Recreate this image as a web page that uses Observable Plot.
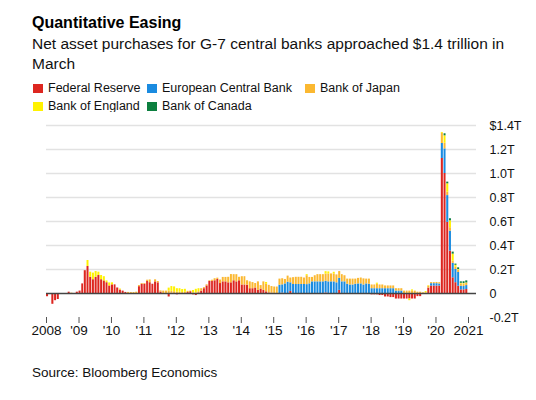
<!DOCTYPE html>
<html>
<head>
<meta charset="utf-8">
<script src="https://cdn.jsdelivr.net/npm/d3@7"></script>
<script src="https://cdn.jsdelivr.net/npm/@observablehq/plot@0.6"></script>
<style>
  body { margin: 0; background: #fff; font-family: "Liberation Sans", Arial, Helvetica, sans-serif; color: #111; }
  #wrap { position: relative; width: 536px; height: 400px; overflow: hidden; }
  #title { position: absolute; left: 32px; top: 14px; font-weight: bold; font-size: 16px; line-height: 18px; color: #000; }
  #sub { position: absolute; left: 32px; top: 34px; font-size: 15.5px; line-height: 19.5px; color: #111; }
  #legend { position: absolute; left: 33px; top: 80.4px; display: grid; grid-template-columns: 114px 158px auto; font-size: 12.5px; }
  .li { position: relative; padding-left: 15px; height: 17.7px; line-height: 17.7px; white-space: nowrap; }
  .sw { position: absolute; left: 0; top: 3.6px; width: 10px; height: 9px; }
  #chart { position: absolute; left: 0; top: 112px; }
  #src { position: absolute; left: 32px; top: 364.5px; font-size: 13.5px; line-height: 16px; color: #111; }
</style>
</head>
<body>
<div id="wrap">
  <div id="title">Quantitative Easing</div>
  <div id="sub">Net asset purchases for G-7 central banks approached $1.4 trillion in<br>March</div>
  <div id="legend"></div>
  <div id="chart"></div>
  <div id="src">Source: Bloomberg Economics</div>
</div>
<script>
// Series (monthly net asset purchases, US$ billions), Jan 2008 .. Dec 2020
const seriesNames = ["Federal Reserve", "European Central Bank", "Bank of Japan", "Bank of England", "Bank of Canada"];
const seriesColors = ["#dd2620", "#1a8be0", "#fbb831", "#fff200", "#0c7f3f"];

const fedReserve = [
  -27, -5, -90, -60, -50, -3, -2, 0, 11, 0, 0, 11,
  20, 80, 190, 225, 135, 115, 135, 150, 115, 105, 90, 63,
  72, 72, 46, 26, 20, 9, 0, 0, 0, -5, 57, 77,
  77, 100, 90, 77, 97, 89, 12, 0, 0, -29, 3, -5,
  -11, 0, 0, 0, 8, 15, -11, -17, 5, 20, 40, 63,
  100, 100, 106, 117, 83, 97, 97, 89, 89, 106, 97, 106,
  71, 71, 69, 40, 40, 46, 26, 37, 26, 14, 5, 3,
  0, -3, -5, 3, 0, 0, 17, 0, 0, 0, -4, 0,
  0, 0, 0, 0, -3, 0, 0, 5, 0, 0, 0, 0,
  26, 0, 0, 0, 0, -3, 0, 0, 0, -5, -5, -8,
  -11, -11, -11, -17, -17, -29, -29, -34, -34, -46, -46, -46,
  -46, -46, -46, -46, -46, -26, -26, 0, 0, 45, 62, 62,
  62, 62, 1125, 1000, 593, 353, 131, 90, 60, 30, 30, 33
];
const ecb = [
  0, 0, 0, 0, 0, 0, 0, 0, 0, 0, 0, 0,
  0, 0, 0, 0, 0, 0, 0, 0, 0, 0, 0, 0,
  0, 0, 0, 0, 0, 0, 0, 0, 0, 0, 0, 0,
  0, 0, 0, 0, 0, 0, 0, 0, 0, 0, 0, 0,
  0, 0, 0, 0, 0, 0, 0, 0, 0, 0, 0, 0,
  0, 0, 0, 0, 0, 0, 0, 0, 0, 0, 0, 0,
  0, 0, 0, 0, 0, 0, 0, 0, 0, 0, 0, 0,
  0, 0, 69, 69, 80, 94, 72, 75, 75, 75, 75, 75,
  74, 80, 97, 97, 97, 97, 97, 97, 97, 97, 97, 89,
  100, 97, 97, 77, 71, 71, 77, 80, 80, 71, 80, 77,
  40, 40, 40, 40, 40, 40, 40, 40, 40, 20, 20, 20,
  0, 0, 0, 0, 0, 0, 0, 0, 0, 0, 20, 20,
  20, 17, 125, 205, 223, 167, 120, 110, 115, 30, 28, 33
];
const bankOfJapan = [
  0, 0, 0, 0, 0, 0, 0, 0, 0, 3, 0, 0,
  0, 0, 0, 0, 0, 0, 0, 0, 0, 0, 0, 0,
  0, 0, 0, 6, 0, 0, 9, 8, 8, 11, 9, 6,
  6, 11, 23, 0, 17, 11, 10, 20, 20, 20, 15, 15,
  10, 10, 8, 10, 10, 5, 5, 5, 10, 20, 9, 9,
  6, 11, 17, 11, 29, 37, 37, 46, 69, 51, 60, 29,
  69, 69, 37, 57, 51, 37, 71, 29, 71, 63, 63, 55,
  54, 54, 51, 51, 37, 51, 40, 57, 60, 60, 60, 54,
  74, 54, 37, 51, 60, 60, 60, 60, 66, 66, 66, 66,
  57, 60, 51, 43, 49, 49, 43, 46, 49, 51, 40, 43,
  31, 31, 37, 31, 31, 23, 23, 23, 23, 20, 20, 20,
  20, 20, 20, 20, 20, 11, 11, 6, 6, 15, 9, 9,
  10, 11, 85, 47, 28, 28, 19, 20, 20, 20, 20, 19
];
const bankOfEngland = [
  0, 0, 0, 0, 0, 0, 0, 0, 0, 0, 0, 0,
  0, 0, 0, 50, 43, 55, 48, 28, 35, 35, 15, 25,
  17, 0, 0, 5, 0, 0, 0, 0, 0, 0, 0, 0,
  0, 0, 0, 0, 0, 0, 0, 0, 0, 25, 40, 40,
  30, 30, 25, 25, 0, 0, 20, 30, 25, 0, 0, 0,
  0, 0, 0, 0, 0, 0, 0, 0, 0, 0, 0, 0,
  0, 0, 0, 0, 0, 0, 0, 0, -8, 15, 0, 0,
  0, 0, 0, 0, 0, 0, 0, 0, -5, 0, 0, 0,
  9, 0, 0, 0, 0, 0, 0, 20, 17, 0, 14, 0,
  0, 0, -5, 0, 0, 0, 0, 0, 0, 0, 0, 0,
  0, 0, 9, 0, 0, 0, 0, 0, 0, 0, 0, 0,
  0, 0, -14, 10, 0, 0, 0, 0, 10, 5, 0, 0,
  0, 0, 7, 62, 70, 58, 58, 15, 5, 5, 5, 3
];
const bankOfCanada = [
  0, 0, 0, 0, 0, 0, 0, 0, 0, 0, 0, 0,
  0, 0, 0, 0, 0, 0, 0, 0, 0, 0, 0, 0,
  0, 0, 0, 0, 0, 0, 0, 0, 0, 0, 0, 0,
  0, 0, 0, 0, 0, 0, 0, 0, 0, 0, 0, 0,
  0, 0, 0, 0, 0, 0, 0, 0, 0, 0, 0, 0,
  0, 0, 0, 0, 0, 0, 0, 0, 0, 0, 0, 0,
  0, 0, 0, 0, 0, 0, 0, 0, 0, 0, 0, 0,
  0, 0, 0, 0, 0, 0, 0, 0, 0, 0, 0, 0,
  0, 0, 0, 0, 0, 0, 0, 0, 0, 0, 0, 0,
  0, 0, 0, 0, 0, 0, 0, 0, 0, 0, 0, 0,
  0, 0, 0, 0, 0, 0, 0, 0, 0, 0, 0, 0,
  0, 0, 0, 0, 0, 0, 0, 0, 0, 0, 0, 0,
  0, 0, 0, 17, 14, 17, 17, 10, 14, 12, 15, 17
];

const xTickYears = [2008, 2009, 2010, 2011, 2012, 2013, 2014, 2015, 2016, 2017, 2018, 2019, 2020, 2021];
const xTickLabels = ["2008", "'09", "'10", "'11", "'12", "'13", "'14", "'15", "'16", "'17", "'18", "'19", "'20", "2021"];
const yTickValues = [-0.2, 0, 0.2, 0.4, 0.6, 0.8, 1.0, 1.2, 1.4];
const yTickLabels = ["-0.2T", "0", "0.2T", "0.4T", "0.6T", "0.8T", "1.0T", "1.2T", "$1.4T"];

// legend
const legend = document.getElementById("legend");
seriesNames.forEach((name, k) => {
  const div = document.createElement("div");
  div.className = "li";
  div.innerHTML = `<span class="sw" style="background:${seriesColors[k]}"></span>${name}`;
  legend.appendChild(div);
});

// rows
const seriesValues = [fedReserve, ecb, bankOfJapan, bankOfEngland, bankOfCanada];
const months = d3.utcMonths(new Date(Date.UTC(2008, 0, 1)), new Date(Date.UTC(2021, 0, 1)));
const rows = [];
months.forEach((m, i) => {
  const next = d3.utcMonth.offset(m, 1);
  seriesNames.forEach((s, k) => {
    const v = seriesValues[k][i];
    if (v !== 0) rows.push({x1: m, x2: next, bank: s, value: v / 1000});
  });
});

const xTicks = xTickYears.map(y => new Date(Date.UTC(y, 0, 1)));
const xLabel = new Map(xTicks.map((d, i) => [+d, xTickLabels[i]]));
const yLabel = new Map(yTickValues.map((v, i) => [v.toFixed(1), yTickLabels[i]]));

const chart = Plot.plot({
  width: 536,
  height: 230,
  marginLeft: 46,
  marginRight: 60,
  marginTop: 13,
  marginBottom: 25,
  style: {fontFamily: "'Liberation Sans', Arial, Helvetica, sans-serif", fontSize: "13px", color: "#111", background: "#fff"},
  x: {
    type: "utc",
    domain: [new Date(Date.UTC(2008, 0, 1)), new Date(Date.UTC(2021, 3, 1))],
    ticks: xTicks,
    tickFormat: d => xLabel.get(+d),
    tickSize: 6,
    tickPadding: 2,
    label: null
  },
  y: {
    domain: [-0.2, 1.4],
    axis: "right",
    ticks: yTickValues,
    tickFormat: d => yLabel.get((+d).toFixed(1)),
    tickSize: 0,
    tickPadding: 13,
    label: null
  },
  color: {domain: seriesNames, range: seriesColors},
  marks: [
    Plot.ruleY(yTickValues.filter(v => v > 0), {stroke: "#e2e2e2", strokeWidth: 1.5}),
    Plot.rectY(rows, {x1: "x1", x2: "x2", y: "value", fill: "bank", insetRight: 0.7}),
    Plot.ruleY([0], {stroke: "#444", strokeWidth: 1.5})
  ]
});
document.getElementById("chart").appendChild(chart);

// axis font tweaks
d3.select(chart).selectAll('[aria-label="y-axis tick label"]').attr("font-size", 12.5);
d3.select(chart).selectAll('[aria-label="x-axis tick label"]').attr("font-size", 13.5);
d3.select(chart).selectAll('[aria-label="x-axis tick"]').attr("stroke", "#555");
</script>
</body>
</html>
